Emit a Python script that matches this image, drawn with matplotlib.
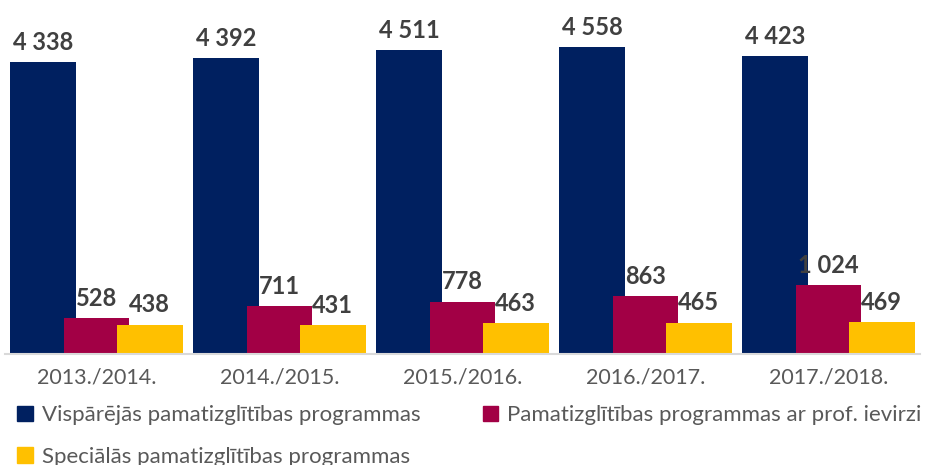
import numpy as np
import matplotlib
matplotlib.use("Agg")
import matplotlib.pyplot as plt
from matplotlib.patches import Patch

years = ["2013./2014.", "2014./2015.", "2015./2016.", "2016./2017.", "2017./2018."]
series_names = ["Vispārējās pamatizglītības programmas",
                "Pamatizglītības programmas ar prof. ievirzi",
                "Speciālās pamatizglītības programmas"]
general = [4338, 4392, 4511, 4558, 4423]
vocational = [528, 711, 778, 863, 1024]
special = [438, 431, 463, 465, 469]

colors = ["#002060", "#A20045", "#FFC000"]
label_color = "#404040"
text_color = "#595959"

plt.rcParams['font.family'] = ['Lato', 'DejaVu Sans']

fig = plt.figure(figsize=(9.35, 4.65), dpi=100)
ax = fig.add_axes([5 / 935, 111 / 465, 915 / 935, 354 / 465])

x = np.arange(len(years))
width = 0.36
offsets = [-0.29, 0.0, 0.29]

for vals, off, col in zip([general, vocational, special], offsets, colors):
    bars = ax.bar(x + off, vals, width, color=col, zorder=2)
    ax.bar_label(bars, labels=[f"{v:,}".replace(",", " ") for v in vals],
                 padding=6, fontsize=17, fontweight="bold", color=label_color)

ax.set_xlim(-0.5, 4.5)
ax.set_ylim(0, 5260)
ax.set_yticks([])
ax.set_xticks(x)
ax.set_xticklabels(years, fontsize=15.5, color=text_color)
ax.tick_params(axis="x", length=0, pad=10)
for s in ["top", "right", "left"]:
    ax.spines[s].set_visible(False)
ax.spines["bottom"].set_color("#D9D9D9")
ax.spines["bottom"].set_linewidth(1.5)

handles = [Patch(color=c) for c in colors]
order = [0, 2, 1]
fig.legend([handles[i] for i in order], [series_names[i] for i in order],
           ncol=2, loc="upper left", bbox_to_anchor=(0.009, 0.148),
           frameon=False, fontsize=16, labelcolor=text_color,
           handlelength=0.7, handleheight=0.7, handletextpad=0.4,
           columnspacing=2.8, labelspacing=0.97, borderaxespad=0)

fig.savefig("out.png", dpi=100)
